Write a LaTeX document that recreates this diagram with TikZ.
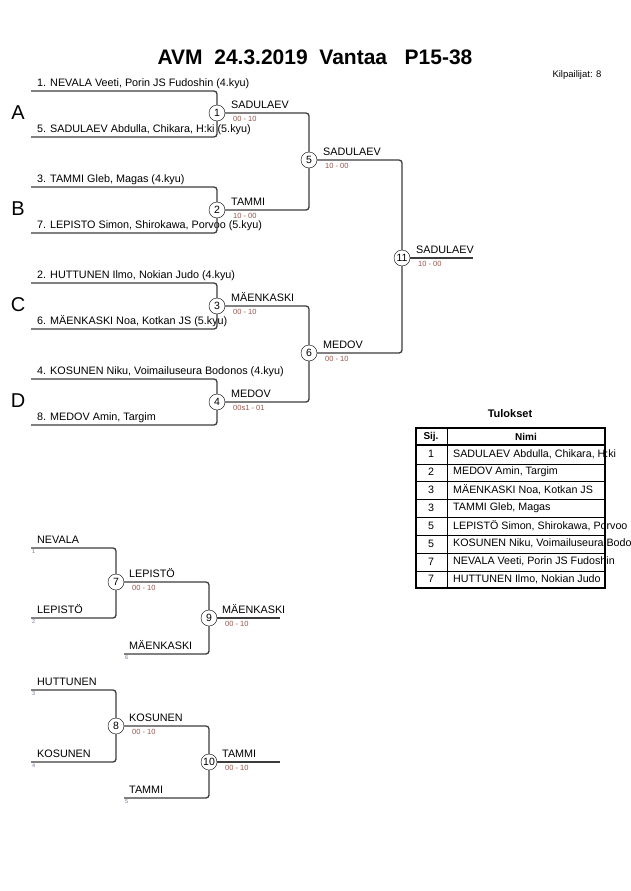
\documentclass[tikz,border=0pt]{standalone}
\usepackage{fontspec}
\setmainfont{Liberation Sans}
\usepackage{tikz}

\definecolor{wiregray}{RGB}{60,60,60}
\definecolor{scorecol}{RGB}{150,85,75}
\definecolor{seedcol}{RGB}{110,120,160}

\tikzset{
    match/.style={circle, draw, fill=white, minimum size=16pt, inner sep=0pt, font=\fontsize{10.5}{10.5}\selectfont},
    entry/.style={anchor=base west, inner sep=0pt, font=\fontsize{10.8}{12}\selectfont},
    score/.style={anchor=base west, inner sep=0pt, text=scorecol, font=\fontsize{7.5}{7.5}\selectfont},
    seed/.style={anchor=base west, inner sep=0pt, text=seedcol, font=\fontsize{5.5}{5.5}\selectfont},
    pool/.style={inner sep=0pt, font=\fontsize{20}{20}\selectfont},
    wire/.style={draw=wiregray, line width=1.3pt, rounded corners=3pt},
    cell/.style={inner sep=0pt, font=\fontsize{10.7}{12}\selectfont}
}

\begin{document}
\begin{tikzpicture}[x=1pt, y=-1pt]

            \useasboundingbox (0,0) rectangle (630,891);

            % Title

            \node[font=\bfseries\fontsize{21}{21}\selectfont] (title) at (315,57) {AVM\ \ 24.3.2019\ \ Vantaa\ \ \ P15-38};
            \node[font=\fontsize{9.5}{10}\selectfont, anchor=west] (count) at (549,75) {Kilpailijat: 8};

            % Pools

            \node[pool] (poolA) at (18,113) {A};
            \node[pool] (poolB) at (18,209) {B};
            \node[pool] (poolC) at (18,305) {C};
            \node[pool] (poolD) at (18,401) {D};

            % Slots

            \coordinate (s1) at (31,91);
            \coordinate (s5) at (31,137);
            \coordinate (s3) at (31,187);
            \coordinate (s7) at (31,233);
            \coordinate (s2) at (31,283);
            \coordinate (s6) at (31,329);
            \coordinate (s4) at (31,379);
            \coordinate (s8) at (31,425);

            \node[entry] (e1) at (37,86.5) {1. NEVALA Veeti, Porin JS Fudoshin (4.kyu)};
            \node[entry] (e5) at (37,132.5) {5. SADULAEV Abdulla, Chikara, H:ki (5.kyu)};
            \node[entry] (e3) at (37,182.5) {3. TAMMI Gleb, Magas (4.kyu)};
            \node[entry] (e7) at (37,228.5) {7. LEPISTO Simon, Shirokawa, Porvoo (5.kyu)};
            \node[entry] (e2) at (37,278.5) {2. HUTTUNEN Ilmo, Nokian Judo (4.kyu)};
            \node[entry] (e6) at (37,324.5) {6. MÄENKASKI Noa, Kotkan JS (5.kyu)};
            \node[entry] (e4) at (37,374.5) {4. KOSUNEN Niku, Voimailuseura Bodonos (4.kyu)};
            \node[entry] (e8) at (37,420.5) {8. MEDOV Amin, Targim};

            % Matches

            \node[match] (m1) at (217,113) {1};
            \node[match] (m2) at (217,210) {2};
            \node[match] (m3) at (217,306) {3};
            \node[match] (m4) at (217,402) {4};
            \node[match] (m5) at (309,160) {5};
            \node[match] (m6) at (309,353) {6};
            \node[match] (m11) at (402,258) {11};
            \coordinate (w11) at (473,258);

            % Winners and scores

            \node[entry] (n1) at (231,108) {SADULAEV};
            \node[score] (r1) at (233,121) {00 - 10};
            \node[entry] (n2) at (231,205) {TAMMI};
            \node[score] (r2) at (233,218) {10 - 00};
            \node[entry] (n3) at (231,301) {MÄENKASKI};
            \node[score] (r3) at (233,314) {00 - 10};
            \node[entry] (n4) at (231,397) {MEDOV};
            \node[score] (r4) at (233,410) {00s1 - 01};
            \node[entry] (n5) at (323,155) {SADULAEV};
            \node[score] (r5) at (325,168) {10 - 00};
            \node[entry] (n6) at (323,348) {MEDOV};
            \node[score] (r6) at (325,361) {00 - 10};
            \node[entry] (n11) at (416,253) {SADULAEV};
            \node[score] (r11) at (418,266) {10 - 00};

            % Edges

            \draw[wire] (s1) -| (m1);
            \draw[wire] (s5) -| (m1);
            \draw[wire] (s3) -| (m2);
            \draw[wire] (s7) -| (m2);
            \draw[wire] (s2) -| (m3);
            \draw[wire] (s6) -| (m3);
            \draw[wire] (s4) -| (m4);
            \draw[wire] (s8) -| (m4);
            \draw[wire] (m1) -| (m5);
            \draw[wire] (m2) -| (m5);
            \draw[wire] (m3) -| (m6);
            \draw[wire] (m4) -| (m6);
            \draw[wire] (m5) -| (m11);
            \draw[wire] (m6) -| (m11);
            \draw[wire] (m11) -- (w11);

            % Repechage

            \coordinate (t1) at (31,548);
            \coordinate (t2) at (31,618);
            \coordinate (t6) at (124,654);
            \coordinate (t3) at (31,690);
            \coordinate (t4) at (31,762);
            \coordinate (t5) at (124,798);

            \node[entry] (f1) at (37,543.5) {NEVALA};
            \node[seed] (d1) at (32,553) {1};
            \node[entry] (f2) at (37,613.5) {LEPISTÖ};
            \node[seed] (d2) at (32,623) {2};
            \node[entry] (f6) at (129,649.5) {MÄENKASKI};
            \node[seed] (d6) at (125,659) {6};
            \node[entry] (f3) at (37,685.5) {HUTTUNEN};
            \node[seed] (d3) at (32,695) {3};
            \node[entry] (f4) at (37,757.5) {KOSUNEN};
            \node[seed] (d4) at (32,767) {4};
            \node[entry] (f5) at (129,793.5) {TAMMI};
            \node[seed] (d5) at (125,803) {5};

            \node[match] (m7) at (116,582) {7};
            \node[match] (m8) at (116,726) {8};
            \node[match] (m9) at (209,618) {9};
            \node[match] (m10) at (209,762) {10};
            \coordinate (w9) at (280,618);
            \coordinate (w10) at (280,762);

            \node[entry] (n7) at (129,577) {LEPISTÖ};
            \node[score] (r7) at (132,590) {00 - 10};
            \node[entry] (n9) at (222,613) {MÄENKASKI};
            \node[score] (r9) at (225,626) {00 - 10};
            \node[entry] (n8) at (129,721) {KOSUNEN};
            \node[score] (r8) at (132,734) {00 - 10};
            \node[entry] (n10) at (222,757) {TAMMI};
            \node[score] (r10) at (225,770) {00 - 10};

            \draw[wire] (t1) -| (m7);
            \draw[wire] (t2) -| (m7);
            \draw[wire] (m7) -| (m9);
            \draw[wire] (t6) -| (m9);
            \draw[wire] (m9) -- (w9);
            \draw[wire] (t3) -| (m8);
            \draw[wire] (t4) -| (m8);
            \draw[wire] (m8) -| (m10);
            \draw[wire] (t5) -| (m10);
            \draw[wire] (m10) -- (w10);

            % Results

            \node[font=\bfseries\fontsize{11}{12}\selectfont] (results) at (510,414) {Tulokset};
            \foreach \y in {463.9,481.8,499.6,517.5,535.4,553.3,571.1}
                \draw[line width=0.8pt] (416,\y) -- (605,\y);
            \draw[line width=1.4pt] (416,445) -- (605,445);
            \draw[line width=0.9pt] (447,428) -- (447,588);
            \draw[line width=1.6pt] (416,428) rectangle (605,588);
            \node[cell, font=\bfseries\fontsize{10}{11}\selectfont] (hsij) at (431,436.5) {Sij.};
            \node[cell, font=\bfseries\fontsize{10}{11}\selectfont] (hnimi) at (526,436.5) {Nimi};
            \foreach \k/\p/\name in {1/1/{SADULAEV Abdulla, Chikara, H:ki},
                    2/2/{MEDOV Amin, Targim},
                    3/3/{MÄENKASKI Noa, Kotkan JS},
                    4/3/{TAMMI Gleb, Magas},
                    5/5/{LEPISTÖ Simon, Shirokawa, Porvoo},
                    6/5/{KOSUNEN Niku, Voimailuseura Bodonos},
                    7/7/{NEVALA Veeti, Porin JS Fudoshin},
                    8/7/{HUTTUNEN Ilmo, Nokian Judo}} {
                \node[cell] (sij\k) at (431,{445+17.9*(\k-0.5)}) {\p};
                \node[cell, anchor=west] (nimi\k) at (453,{445+17.9*(\k-0.5)}) {\name};
            }

\end{tikzpicture}
\end{document}
